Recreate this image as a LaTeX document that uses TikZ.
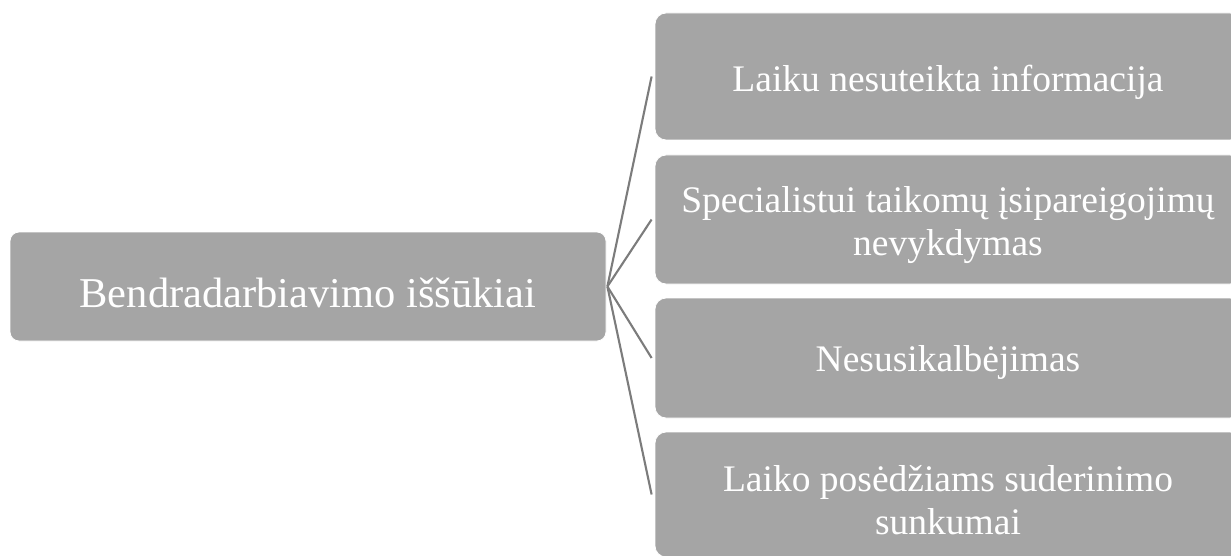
\documentclass[tikz,border=0pt]{standalone}
\usepackage{fontspec}
\setmainfont{Liberation Serif}
\definecolor{boxgray}{HTML}{A5A5A5}
\definecolor{linkgray}{HTML}{7C7C7C}
\tikzset{
  hubbox/.style={rectangle, rounded corners=9pt, fill=boxgray, draw=white, line width=0.8pt,
    inner sep=0pt},
  itembox/.style={rectangle, rounded corners=11pt, fill=boxgray, draw=white, line width=0.8pt,
    inner sep=0pt, minimum width=586pt},
  hubtext/.style={inner sep=0pt, align=center, text=white,
    font=\fontsize{42.5}{48}\selectfont},
  itemtext/.style={inner sep=0pt, align=center, text=white,
    font=\fontsize{37.5}{43}\selectfont},
  link/.style={draw=linkgray, line width=2.1pt}
}
\begin{document}
\begin{tikzpicture}[x=1pt, y=-1pt]
  \useasboundingbox (0,0) rectangle (1231,556);
  \clip (0,0) rectangle (1231,556);
  \fill[white] (0,0) rectangle (1231,556);

  % central topic
  \node[hubbox, minimum width=596pt, minimum height=109pt] (hub) at (308,286.5) {};
  \node[hubtext] (hubt) at ([yshift=-6pt]hub.center) {Bendradarbiavimo iššūkiai};

  % challenges
  \node[itembox, minimum height=127pt] (b1) at (948,76.5) {};
  \node[itembox, minimum height=129pt] (b2) at (948,219.5) {};
  \node[itembox, minimum height=120pt] (b3) at (948,358) {};
  \node[itembox, minimum height=125pt] (b4) at (948,494.5) {};

  \node[itemtext] (t1) at ([yshift=-6pt]b1.center) {Laiku nesuteikta informacija};
  \node[itemtext] (t2) at ([yshift=-6pt]b2.center) {Specialistui taikomų įsipareigojimų\\nevykdymas};
  \node[itemtext] (t3) at ([yshift=-4pt]b3.center) {Nesusikalbėjimas};
  \node[itemtext] (t4) at ([yshift=-6pt]b4.center) {Laiko posėdžiams suderinimo\\sunkumai};

  % connectors fanning out from the central topic
  \coordinate (hubtip) at ([xshift=1pt]hub.east);
  \foreach \b in {b1,b2,b3,b4}
    \draw[link] (hubtip) -- ([xshift=-3pt]\b.west);
\end{tikzpicture}
\end{document}
